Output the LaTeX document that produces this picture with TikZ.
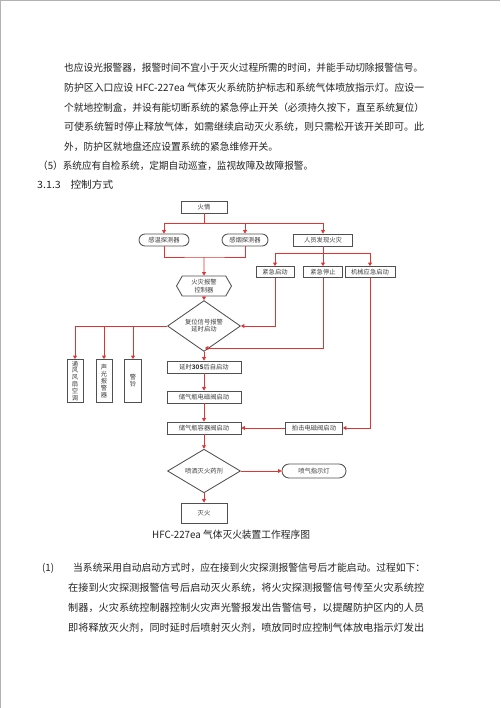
\documentclass[tikz,border=0pt]{standalone}
\usepackage{graphicx}
\usepackage{fontspec}
\setmainfont{Noto Sans CJK SC}
\usetikzlibrary{shapes.geometric,shapes.symbols,arrows.meta}
\definecolor{redline}{RGB}{228,50,50}
\definecolor{boxline}{RGB}{80,80,80}
\definecolor{txt}{RGB}{35,35,35}
\newcommand\fitto[2]{\resizebox{#1}{\height}{#2}}
\tikzset{
  conn/.style={draw=redline, line width=0.7pt},
  arr/.style={conn, -{Triangle[width=3.8pt,length=3.4pt]}},
  fbox/.style={draw=boxline, line width=0.85pt, fill=white, text=black!75,
    font=\fontsize{6.3}{7.2}\selectfont, inner sep=0pt, minimum height=12pt, align=center},
  rbox/.style={fbox, rounded corners=6pt},
  dia/.style={fbox, diamond, minimum width=73pt, minimum height=32pt},
  hexa/.style={fbox, signal, signal to=west and east, signal pointer angle=120,
    minimum width=55pt, minimum height=20pt},
  vbox/.style={fbox, minimum height=43pt, minimum width=16pt, font=\fontsize{6.3}{6.9}\selectfont},
  para/.style={anchor=west, inner sep=0pt, font=\fontsize{10}{12}\selectfont, text=txt},
}
\begin{document}
\begin{tikzpicture}[x=1pt,y=-1pt]
\useasboundingbox[fill=white] (0,0) rectangle (500,708);
\draw[black!30, line width=0.8pt] (0.4,708) -- (0.4,0.4) -- (500,0.4);

% upper text
\node[para] (p1) at (64,68) {\fitto{359pt}{也应设光报警器，报警时间不宜小于灭火过程所需的时间，并能手动切除报警信号。}};
\node[para] (p2) at (64,88) {\fitto{360pt}{防护区入口应设 HFC-227ea 气体灭火系统防护标志和系统气体喷放指示灯。应设一}};
\node[para] (p3) at (64,108) {\fitto{360pt}{个就地控制盒，并设有能切断系统的紧急停止开关（必须持久按下，直至系统复位）}};
\node[para] (p4) at (64,127) {\fitto{360pt}{可使系统暂时停止释放气体，如需继续启动灭火系统，则只需松开该开关即可。此}};
\node[para] (p5) at (64,147) {\fitto{214pt}{外，防护区就地盘还应设置系统的紧急维修开关。}};
\node[para] (p6) at (38,166) {\fitto{275pt}{（5）系统应有自检系统，定期自动巡查，监视故障及故障报警。}};
\node[para] (p7) at (37,185) {\fitto{76pt}{3.1.3\hspace{9pt}控制方式}};

% diagram nodes
\node[fbox, minimum width=46pt] (huo) at (204,207) {火情};
\node[rbox, minimum width=50pt] (wen) at (164,240) {感温探测器};
\node[rbox, minimum width=46pt] (yan) at (245,240) {感烟探测器};
\node[fbox, minimum width=59pt] (ren) at (323,240) {人员发现火灾};
\node[hexa] (ctl) at (204,286) {火灾报警\\控制器};
\node[fbox, minimum width=38pt, minimum height=11pt] (jq) at (275,272) {紧急启动};
\node[fbox, minimum width=39pt, minimum height=11pt] (jt) at (323,272) {紧急停止};
\node[fbox, minimum width=50pt, minimum height=11pt] (jx) at (370,272) {机械应急启动};
\node[dia] (fw) at (204,326) {复位信号报警\\延时启动};
\node[vbox] (tf) at (75,381) {通\\风\\风\\扇\\空\\调};
\node[vbox] (sg) at (104,381) {声\\光\\报\\警\\器};
\node[vbox, minimum width=17pt] (jl) at (133,381) {警\\铃};
\node[fbox, minimum width=74pt] (ys) at (204,367) {延时\textbf{30S}后自启动};
\node[fbox, minimum width=74pt] (dc) at (204,397) {储气瓶电磁阀启动};
\node[fbox, minimum width=74pt] (rq) at (204,428) {储气瓶容器阀启动};
\node[fbox, minimum width=57pt] (pj) at (314,428) {拍击电磁阀启动};
\node[dia] (ps) at (204,471) {喷洒灭火药剂};
\node[rbox, minimum width=64pt, minimum height=14pt, rounded corners=7pt] (zs) at (314,471) {喷气指示灯};
\node[fbox, minimum width=46pt, minimum height=20pt] (mh) at (204,513) {灭火};

% connectors
\coordinate (j1) at (204,223);
\draw[conn] (huo) -- (j1);
\draw[arr] (j1) -| (wen);
\draw[arr] (j1) -| (yan);
\draw[arr] (j1) -| (ren);
\coordinate (j2) at (204,257);
\draw[conn] (wen) |- (j2) -| (yan);
\draw[arr] (j2) -- (ctl);
\coordinate (j3) at (323,253);
\draw[conn] (ren) -- (j3);
\draw[arr] (j3) -| (jq);
\draw[arr] (j3) -- (jt);
\draw[arr] (j3) -| (jx);
\draw[arr] (ctl) -- (fw);
\draw[arr] (jq) |- (fw);
\coordinate (j4) at (205,348);
\draw[arr] (jt) |- (j4);
\draw[arr] (fw) -| (tf);
\draw[arr] (fw) -| (sg);
\draw[arr] (fw) -| (jl);
\draw[arr] (fw) -- (ys);
\draw[arr] (ys) -- (dc);
\draw[arr] (dc) -- (rq);
\draw[arr] (jx) |- (pj);
\draw[arr] (pj) -- (rq);
\draw[arr] (rq) -- (ps);
\draw[arr] (ps) -- (zs);
\draw[arr] (ps) -- (mh);

% caption
\node[para] (cap) at (152,535) {\fitto{158pt}{HFC-227ea 气体灭火装置工作程序图}};

% lower text
\node[para] (b0) at (42,568) {\fitto{12pt}{(1)}};
\node[para] (b1) at (73,568) {\fitto{352pt}{当系统采用自动启动方式时，应在接到火灾探测报警信号后才能启动。过程如下：}};
\node[para] (b2) at (68,588) {\fitto{356pt}{在接到火灾探测报警信号后启动灭火系统，将火灾探测报警信号传至火灾系统控}};
\node[para] (b3) at (68,608) {\fitto{356pt}{制器，火灾系统控制器控制火灾声光警报发出告警信号，以提醒防护区内的人员}};
\node[para] (b4) at (68,628) {\fitto{356pt}{即将释放灭火剂，同时延时后喷射灭火剂，喷放同时应控制气体放电指示灯发出}};
\end{tikzpicture}
\end{document}
